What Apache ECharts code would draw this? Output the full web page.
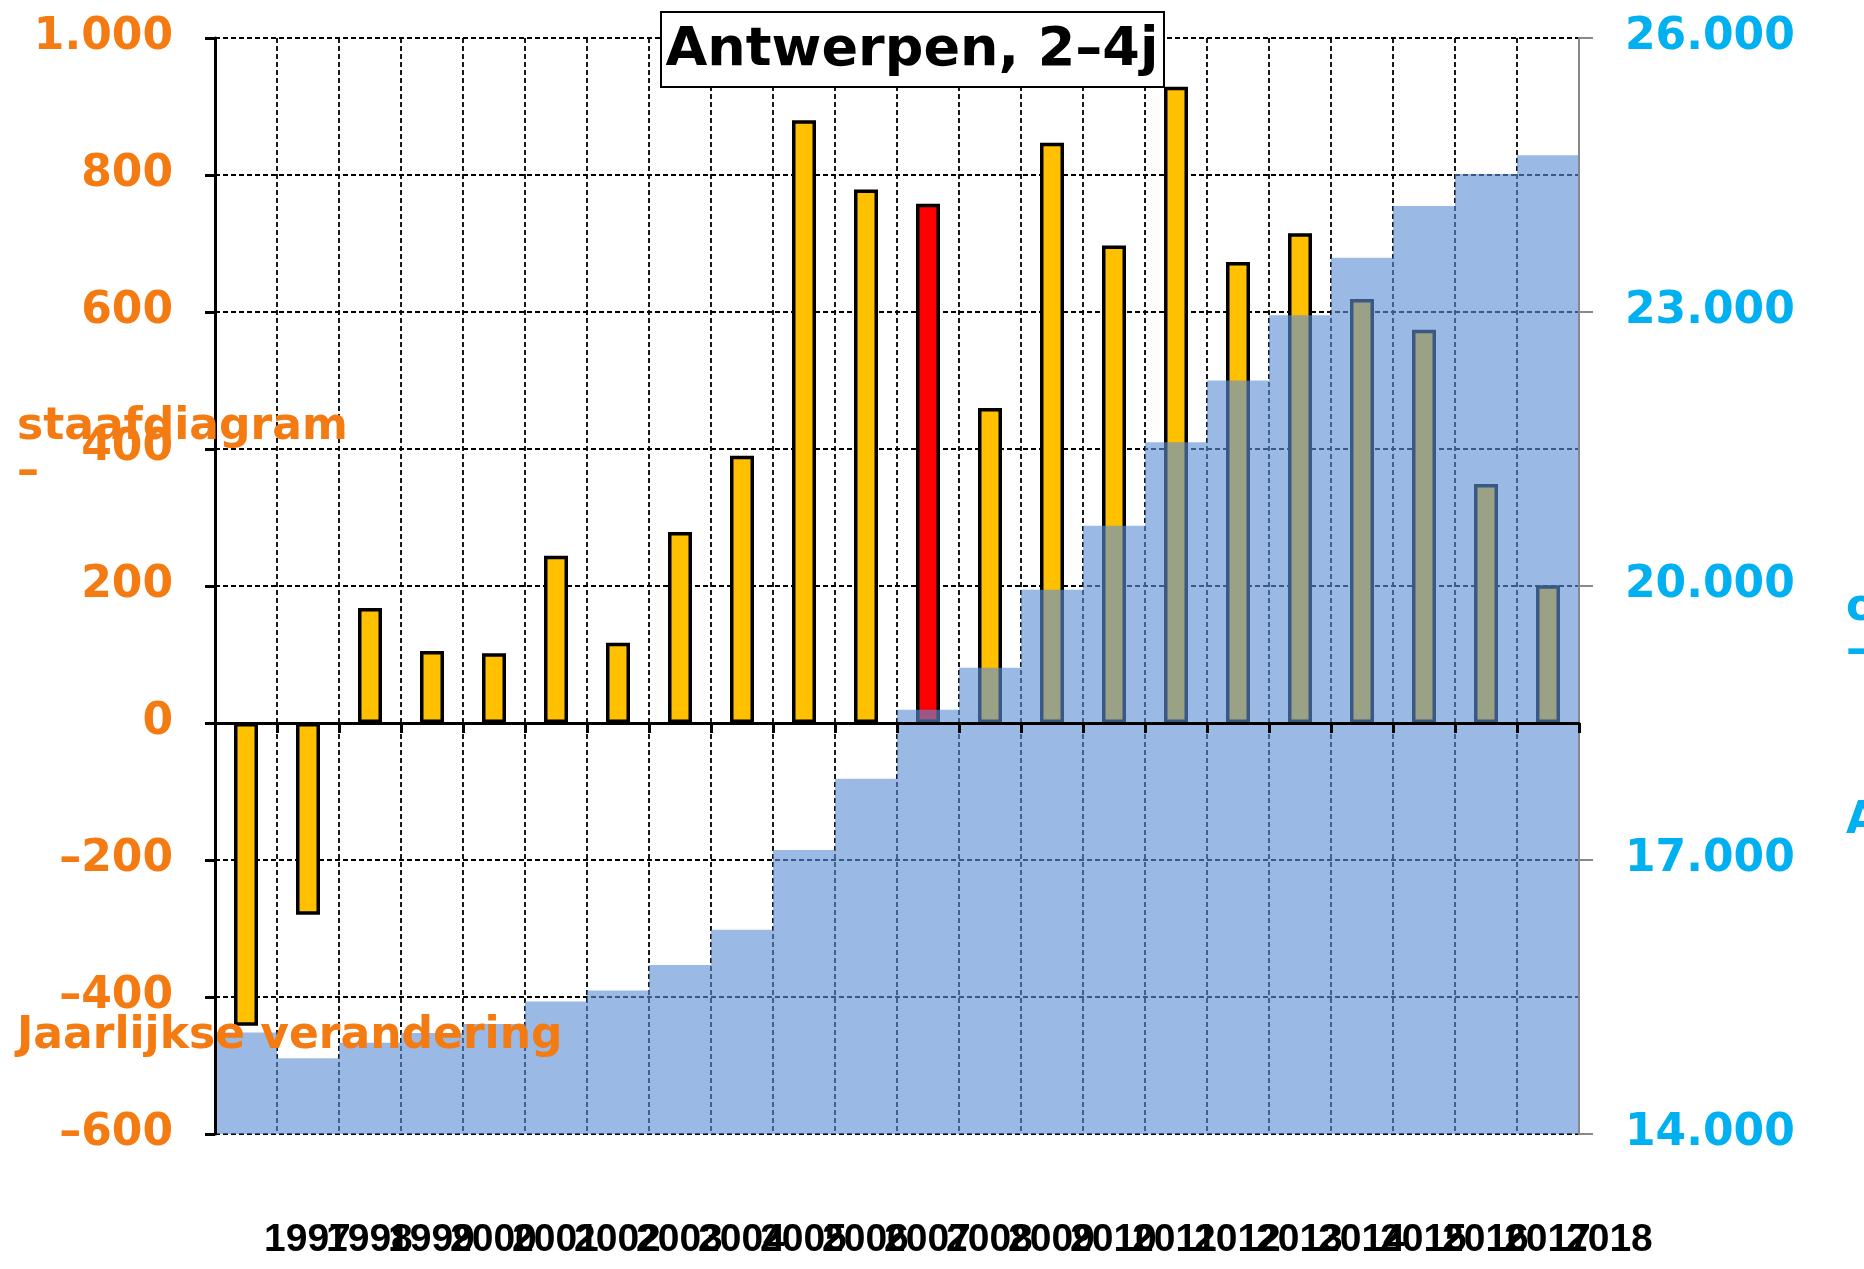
<!DOCTYPE html>
<html>
<head>
<meta charset="utf-8">
<script src="https://cdn.jsdelivr.net/npm/echarts@6/dist/echarts.min.js"></script>
<style>
html,body{margin:0;padding:0;background:#fff;}
#chart{width:1864px;height:1269px;}
</style>
</head>
<body>
<div id="chart"></div>
<script>
// Data
var years = ['1997','1998','1999','2000','2001','2002','2003','2004','2005','2006','2007','2008','2009','2010','2011','2012','2013','2014','2015','2016','2017','2018'];
var yearlyChange = [-442,-280,168,105,102,244,117,279,390,880,779,758,460,847,697,929,673,715,619,574,349,201];
var population = [15110,14830,15000,15105,15205,15450,15570,15850,16235,17110,17890,18645,19105,19960,20660,21575,22250,22965,23595,24160,24510,24715];
var highlightIndex = 11;
var leftTicks = [-600,-400,-200,0,200,400,600,800,1000];
var rightTicks = [14000,17000,20000,23000,26000];
var titleText = 'Antwerpen, 2–4j';

var ORANGE = '#F47A12';
var CYAN = '#00B0F0';
var FONT = 'DejaVu Sans';

function fmt(v){
  var s = String(Math.abs(v)).replace(/\B(?=(\d{3})+(?!\d))/g,'.');
  return (v<0?'–':'') + s;
}

var chart = echarts.init(document.getElementById('chart'));
var gridL = 215, gridR = 285, gridT = 38, gridB = 135;

var barData = yearlyChange.map(function(v,i){
  return i===highlightIndex ? {value:v, itemStyle:{color:'#FF0000'}} : v;
});

var option = {
  animation:false,
  backgroundColor:'#fff',
  grid:{left:gridL,right:gridR,top:gridT,bottom:gridB,containLabel:false},
  xAxis:[
    {
      type:'category', data:years, position:'bottom', z:0,
      axisLine:{show:false,onZero:false},
      axisTick:{show:false},
      splitLine:{show:true,lineStyle:{color:'#000',type:[5,3],width:1.8}},
      axisLabel:{show:true,interval:0,margin:87,align:'left',padding:[0,0,0,18],
        fontFamily:'Liberation Sans, Arial, sans-serif',
        fontWeight:'bold',fontSize:39,color:'#000'}
    },
    {
      type:'category', data:years, position:'bottom', z:10,
      axisLine:{show:true,onZero:true,onZeroAxisIndex:0,lineStyle:{color:'#000',width:3}},
      axisTick:{show:true,inside:false,length:10,lineStyle:{color:'#000',width:3}},
      axisLabel:{show:false},
      splitLine:{show:false}
    }
  ],
  yAxis:[
    {
      type:'value', min:-600, max:1000, interval:200, position:'left', z:0,
      axisLine:{show:false}, axisTick:{show:false}, axisLabel:{show:false},
      splitLine:{show:true,lineStyle:{color:'#000',type:[5,3],width:1.8}}
    },
    {
      type:'value', min:14000, max:26000, position:'right', z:10,
      axisLine:{show:true,lineStyle:{color:'#888',width:2}},
      axisTick:{show:true,inside:false,length:14,customValues:rightTicks,lineStyle:{color:'#888',width:2}},
      axisLabel:{show:true,customValues:rightTicks,margin:46,formatter:fmt,
        fontFamily:FONT,fontWeight:'bold',fontSize:44,color:CYAN},
      splitLine:{show:false}
    },
    {
      type:'value', min:-600, max:1000, interval:200, position:'left', z:10,
      axisLine:{show:true,onZero:false,lineStyle:{color:'#000',width:3}},
      axisTick:{show:true,inside:false,length:10,lineStyle:{color:'#000',width:3}},
      axisLabel:{show:true,margin:42,formatter:fmt,
        fontFamily:FONT,fontWeight:'bold',fontSize:44,color:ORANGE},
      splitLine:{show:false}
    }
  ],
  series:[
    {
      name:'Jaarlijkse verandering', type:'bar', xAxisIndex:0, yAxisIndex:0, z:2,
      data:barData, barWidth:24,
      itemStyle:{color:'#FFC000',borderColor:'#000',borderWidth:3.5}
    },
    {
      name:'Aantal', type:'bar', xAxisIndex:1, yAxisIndex:1, z:3,
      data:population, barWidth:'100%', barCategoryGap:0,
      itemStyle:{color:'rgba(94,142,213,0.62)'}
    }
  ],
  graphic:[
    {type:'rect',z:100,shape:{x:661,y:12,width:503,height:75},style:{fill:'#fff',stroke:'#000',lineWidth:2}},
    {type:'text',z:101,x:912,y:51,style:{text:titleText,font:'bold 54px "DejaVu Sans"',fill:'#000',align:'center',verticalAlign:'middle'}},
    {type:'text',z:101,x:17,y:428,style:{text:'staafdiagram',font:'bold 44px "DejaVu Sans"',fill:ORANGE,align:'left',verticalAlign:'middle'}},
    {type:'text',z:101,x:17,y:473,style:{text:'–',font:'bold 44px "DejaVu Sans"',fill:ORANGE,align:'left',verticalAlign:'middle'}},
    {type:'text',z:101,x:17,y:1037,style:{text:'Jaarlijkse verandering',font:'bold 44px "DejaVu Sans"',fill:ORANGE,align:'left',verticalAlign:'middle'}},
    {type:'text',z:101,x:1846,y:609,style:{text:'oppervlaktediagram',font:'bold 44px "DejaVu Sans"',fill:CYAN,align:'left',verticalAlign:'middle'}},
    {type:'text',z:101,x:1846,y:652,style:{text:'–',font:'bold 44px "DejaVu Sans"',fill:CYAN,align:'left',verticalAlign:'middle'}},
    {type:'text',z:101,x:1846,y:822,style:{text:'Aantal',font:'bold 44px "DejaVu Sans"',fill:CYAN,align:'left',verticalAlign:'middle'}}
  ]
};
chart.setOption(option);
</script>
</body>
</html>
